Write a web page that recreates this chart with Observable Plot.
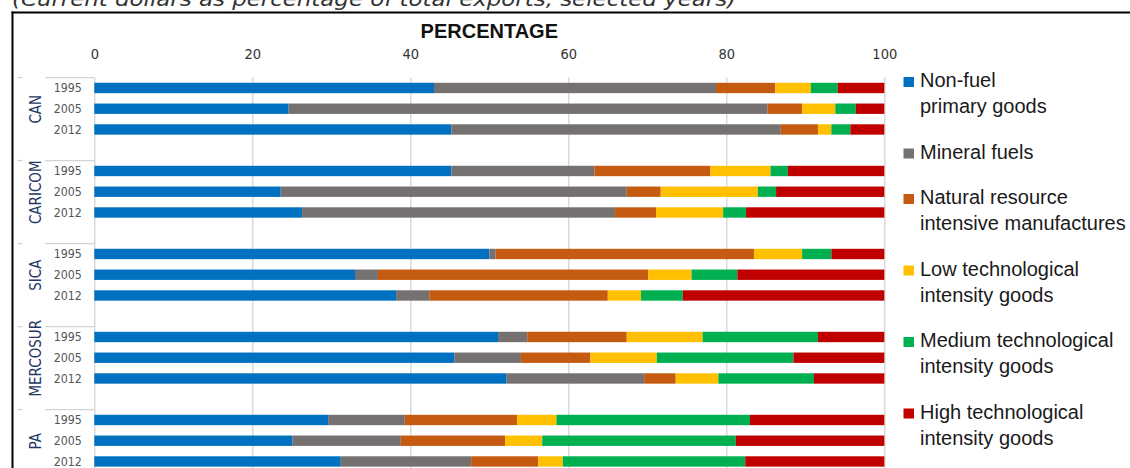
<!DOCTYPE html>
<html><head><meta charset="utf-8">
<script src="https://cdn.jsdelivr.net/npm/d3@7"></script>
<script src="https://cdn.jsdelivr.net/npm/@observablehq/plot@0.6"></script>
<style>
html,body{margin:0;padding:0;width:1130px;height:468px;overflow:hidden;background:#fff}
#wrap{position:relative;width:1130px;height:468px;overflow:hidden}
#wrap svg{position:absolute;left:0;top:0}
</style></head>
<body><div id="wrap"></div>
<script>
// ---- data ----
const groups = ["CAN", "CARICOM", "SICA", "MERCOSUR", "PA"];
const years = ["1995", "2005", "2012"];
const categories = [
  "Non-fuel primary goods",
  "Mineral fuels",
  "Natural resource intensive manufactures",
  "Low technological intensity goods",
  "Medium technological intensity goods",
  "High technological intensity goods"
];
const legendLines = [
  ["Non-fuel", "primary goods"],
  ["Mineral fuels"],
  ["Natural resource", "intensive manufactures"],
  ["Low technological", "intensity goods"],
  ["Medium technological", "intensity goods"],
  ["High technological", "intensity goods"]
];
const colors = ["#0070C0", "#767171", "#C55A11", "#FFC000", "#00B050", "#C00000"];
// values per category, order: CAN 1995/2005/2012, CARICOM ..., SICA ..., MERCOSUR ..., PA ...
const nonFuel = [43.0, 24.6, 45.2, 45.2, 23.6, 26.3, 50.0, 33.0, 38.2, 51.1, 45.6, 52.2, 29.6, 25.1, 31.2];
const mineral = [35.7, 60.6, 41.7, 18.1, 43.8, 39.6, 0.8, 2.9, 4.2, 3.7, 8.4, 17.4, 9.7, 13.7, 16.5];
const natural = [7.5, 4.4, 4.7, 14.7, 4.3, 5.2, 32.7, 34.2, 22.6, 12.6, 8.8, 4.0, 14.2, 13.2, 8.5];
const lowTech = [4.5, 4.2, 1.7, 7.6, 12.3, 8.5, 6.1, 5.5, 4.2, 9.6, 8.4, 5.4, 5.0, 4.7, 3.1];
const medTech = [3.4, 2.6, 2.4, 2.2, 2.3, 2.9, 3.7, 5.8, 5.3, 14.6, 17.3, 12.1, 24.5, 24.5, 23.1];
const highTech = [5.9, 3.6, 4.3, 12.2, 13.7, 17.5, 6.7, 18.6, 25.5, 8.4, 11.5, 8.9, 17.0, 18.8, 17.6];
const xTicks = [0, 20, 40, 60, 80, 100];
const axisTitle = "PERCENTAGE";
const subtitle = "(Current dollars as percentage of total exports, selected years)";

// ---- build ----
const series = [nonFuel, mineral, natural, lowTech, medTech, highTech];
const rows = [];
groups.forEach(g => { years.forEach(y => rows.push(g + "|" + y)); rows.push(g + "|gap"); });
const data = [];
categories.forEach((c, ci) => {
  groups.forEach((g, gi) => years.forEach((y, yi) => {
    data.push({row: g + "|" + y, group: g, year: y, category: c, value: series[ci][gi * 3 + yi]});
  }));
});

const W = 1130, plotLeft = 94.3, plotRight = 884.3, plotTop = 77.6, step = 20.75;
const H = 500;
const plotBottom = plotTop + step * rows.length;

const chart = Plot.plot({
  width: W, height: H,
  marginLeft: plotLeft, marginRight: W - plotRight, marginTop: plotTop, marginBottom: H - plotBottom,
  style: {fontFamily: "DejaVu Sans Condensed, DejaVu Sans", background: "transparent", overflow: "visible"},
  x: {domain: [0, 100]},
  y: {domain: rows, paddingInner: 0.5, paddingOuter: 0.25, round: false},
  color: {domain: categories, range: colors},
  marks: [
    Plot.gridX(xTicks.filter(d => d > 0), {stroke: "#d4d4d4", strokeOpacity: 1, strokeWidth: 1.3}),
    Plot.ruleX([0], {stroke: "#d4d4d4", strokeWidth: 1.3}),
    Plot.barX(data, {x: "value", y: "row", fill: "category", order: categories, insetTop: 0, insetBottom: 0}),
    Plot.axisX({anchor: "top", ticks: xTicks, tickSize: 0, tickPadding: 19, label: null,
      fontSize: 14.5, fontFamily: "DejaVu Sans Condensed, DejaVu Sans", color: "#333"}),
    Plot.axisY({tickSize: 0, tickPadding: 13, label: null,
      tickFormat: d => d.endsWith("gap") ? "" : d.split("|")[1],
      fontSize: 12.3, fontFamily: "DejaVu Sans Condensed, DejaVu Sans", color: "#555"}),
    Plot.text(groups, {y: g => g + "|2005", frameAnchor: "left", dx: -59, rotate: -90,
      text: d => d, fill: "#1F3864", fontSize: 15, fontFamily: "DejaVu Sans Condensed, DejaVu Sans", textAnchor: "middle"}),
    // group separators of the category axis
    (index, scales, values, dims) => {
      const y = scales.y;
      const st = y(rows[1]) - y(rows[0]);
      const g = d3.create("svg:g").attr("stroke", "#d4d4d4").attr("stroke-width", 1.3);
      const L = dims.marginLeft;
      groups.forEach(gr => {
        const top = y(gr + "|1995") - st * 0.25;
        g.append("line").attr("x1", L - 49).attr("x2", L).attr("y1", top).attr("y2", top);
        g.append("line").attr("x1", L - 77).attr("x2", L - 72).attr("y1", top).attr("y2", top);
      });
      return g.node();
    }
  ]
});
const wrap = document.getElementById("wrap");
wrap.appendChild(chart);

// ---- overlay: subtitle, frame, title, legend ----
const ov = d3.select(wrap).append("svg").attr("width", W).attr("height", 468);
ov.append("text").attr("x", 12).attr("y", 6).text(subtitle)
  .attr("font-family", "DejaVu Sans").attr("font-style", "italic").attr("font-size", 19)
  .attr("textLength", 724).attr("lengthAdjust", "spacingAndGlyphs").attr("fill", "#333");
ov.append("line").attr("x1", 11.5).attr("x2", W).attr("y1", 12.5).attr("y2", 12.5).attr("stroke", "#000").attr("stroke-width", 2);
ov.append("line").attr("x1", 12.5).attr("x2", 12.5).attr("y1", 11.5).attr("y2", 468).attr("stroke", "#000").attr("stroke-width", 2);
ov.append("text").attr("x", (plotLeft + plotRight) / 2).attr("y", 38).attr("text-anchor", "middle")
  .attr("font-family", "Liberation Sans, Arial").attr("font-weight", "bold").attr("font-size", 20).attr("fill", "#111").text(axisTitle);

let base = 87;
const lineH = 26, gap = 19.5;
legendLines.forEach((lines, i) => {
  ov.append("rect").attr("x", 903.5).attr("y", base - 10).attr("width", 10.5).attr("height", 10).attr("fill", colors[i]);
  const t = ov.append("text").attr("x", 920).attr("y", base)
    .attr("font-family", "Liberation Sans, Arial").attr("font-size", 20).attr("fill", "#1a1a1a");
  lines.forEach((ln, j) => t.append("tspan").attr("x", 920).attr("y", base + j * lineH).text(ln));
  base += lines.length * lineH + gap;
});
</script>
</body></html>
